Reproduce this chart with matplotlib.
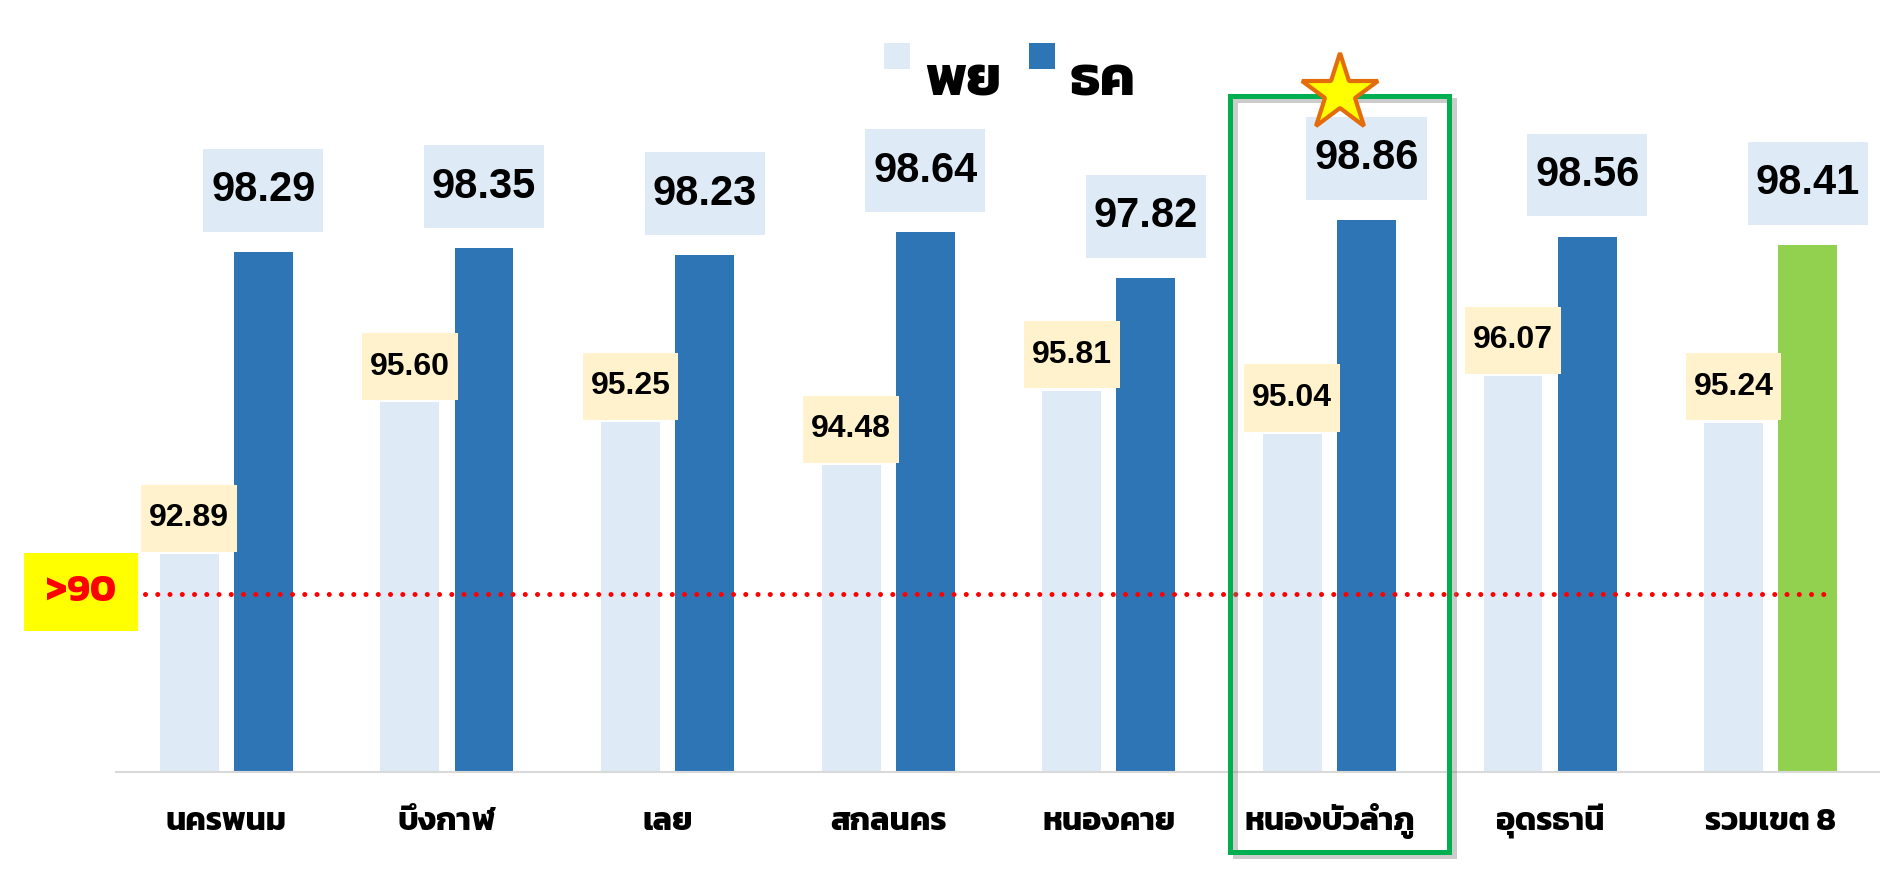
import numpy as np
import matplotlib.pyplot as plt
import matplotlib.patheffects as pe
from matplotlib.patches import Rectangle
from matplotlib.transforms import blended_transform_factory

# ข้อมูล
districts = ["นครพนม", "บึงกาฬ", "เลย", "สกลนคร", "หนองคาย", "หนองบัวลำภู", "อุดรธานี", "รวมเขต 8"]
series_names = ["พย", "ธค"]
pv = [92.89, 95.60, 95.25, 94.48, 95.81, 95.04, 96.07, 95.24]   # พย
dc = [98.29, 98.35, 98.23, 98.64, 97.82, 98.86, 98.56, 98.41]   # ธค
target_label = ">90"
highlight = "หนองบัวลำภู"
total_label = "รวมเขต 8"

thai = "Kanit"
num_font = "Liberation Sans"
light = "#deeaf6"
blue = "#2e75b6"
green = "#92d050"
cream = "#fff2cc"

W, H = 1881, 886
fig = plt.figure(figsize=(W / 100, H / 100), dpi=100)
ax = fig.add_axes([116 / W, 114 / H, 1 - 116 / W, 672 / H])

x = np.arange(len(districts))
bw = 0.267
off = 0.168
dc_colors = [green if d == total_label else blue for d in districts]

ax.bar(x - off, pv, bw, color=light, zorder=2)
ax.bar(x + off, dc, bw, color=dc_colors, zorder=2)
ax.set_xlim(-0.5, 7.5)
ax.set_ylim(89, 101)

# ป้ายค่าตัวเลขในกล่อง
for xi, v in zip(x, pv):
    b = v + 0.04
    ax.add_patch(Rectangle((xi - off - 0.217, b), 0.434, 1.2, fc=cream, ec="none", zorder=3, clip_on=False))
    ax.text(xi - off, b + 0.6, f"{v:.2f}", ha="center", va="center", fontsize=23,
            weight="bold", family=num_font, zorder=4)
for xi, v in zip(x, dc):
    b = v + 0.36
    ax.add_patch(Rectangle((xi + off - 0.272, b), 0.544, 1.48, fc=light, ec="none", zorder=3, clip_on=False))
    ax.text(xi + off, b + 0.74, f"{v:.2f}", ha="center", va="center", fontsize=30,
            weight="bold", family=num_font, zorder=4, clip_on=False)

# แกน
for s in ["left", "top", "right"]:
    ax.spines[s].set_visible(False)
ax.spines["bottom"].set_color("#d9d9d9")
ax.spines["bottom"].set_linewidth(1.5)
ax.set_yticks([])
ax.set_xticks(x, districts)
ax.tick_params(axis="x", length=0, pad=41.8)
for lbl in ax.get_xticklabels():
    lbl.set_family(thai)
    lbl.set_weight("bold")
    lbl.set_fontsize(23)
    lbl.set_va("baseline")

# เส้นเป้าหมาย
trans = blended_transform_factory(ax.transData, ax.transAxes)
ax.plot([-0.37, 7.24], [0.265, 0.265], transform=trans, color="red", lw=3.6,
        linestyle=(0, (0.01, 2.44)), dash_capstyle="round", clip_on=False, zorder=5)
fig.patches.append(Rectangle((24 / W, 1 - 631 / H), 114 / W, 78 / H, transform=fig.transFigure,
                             fc="#ffff00", ec="none"))
fig.text(81 / W, 1 - 592 / H, target_label, color="red", fontsize=28, weight="bold",
         family=thai, ha="center", va="center")

# กรอบเน้น + ดาว
i = districts.index(highlight)
tf = blended_transform_factory(ax.transData, fig.transFigure)
box = Rectangle((i - 0.449, 1 - 852 / H), 0.993, 756 / H, transform=tf, fc="none",
                ec="#00b050", lw=3.6, clip_on=False, zorder=6)
box.set_path_effects([pe.SimpleLineShadow(offset=(3, -3), shadow_color="gray", alpha=0.4), pe.Normal()])
ax.add_patch(box)
ax.plot([i + 0.05], [1 - 93 / H], transform=tf, marker="*", ms=58, mfc="#ffff00",
        mec="#e46c0a", mew=3, clip_on=False, zorder=7)

# คำอธิบาย
for (sx, tx), name, col in zip([(884, 925), (1029, 1070)], series_names, [light, blue]):
    fig.patches.append(Rectangle((sx / W, 1 - 69 / H), 26 / W, 26 / H, transform=fig.transFigure,
                                 fc=col, ec="none"))
    fig.text(tx / W, 1 - 95 / H, name, fontsize=40, weight="bold", family=thai, va="baseline")

fig.savefig("out.png")
